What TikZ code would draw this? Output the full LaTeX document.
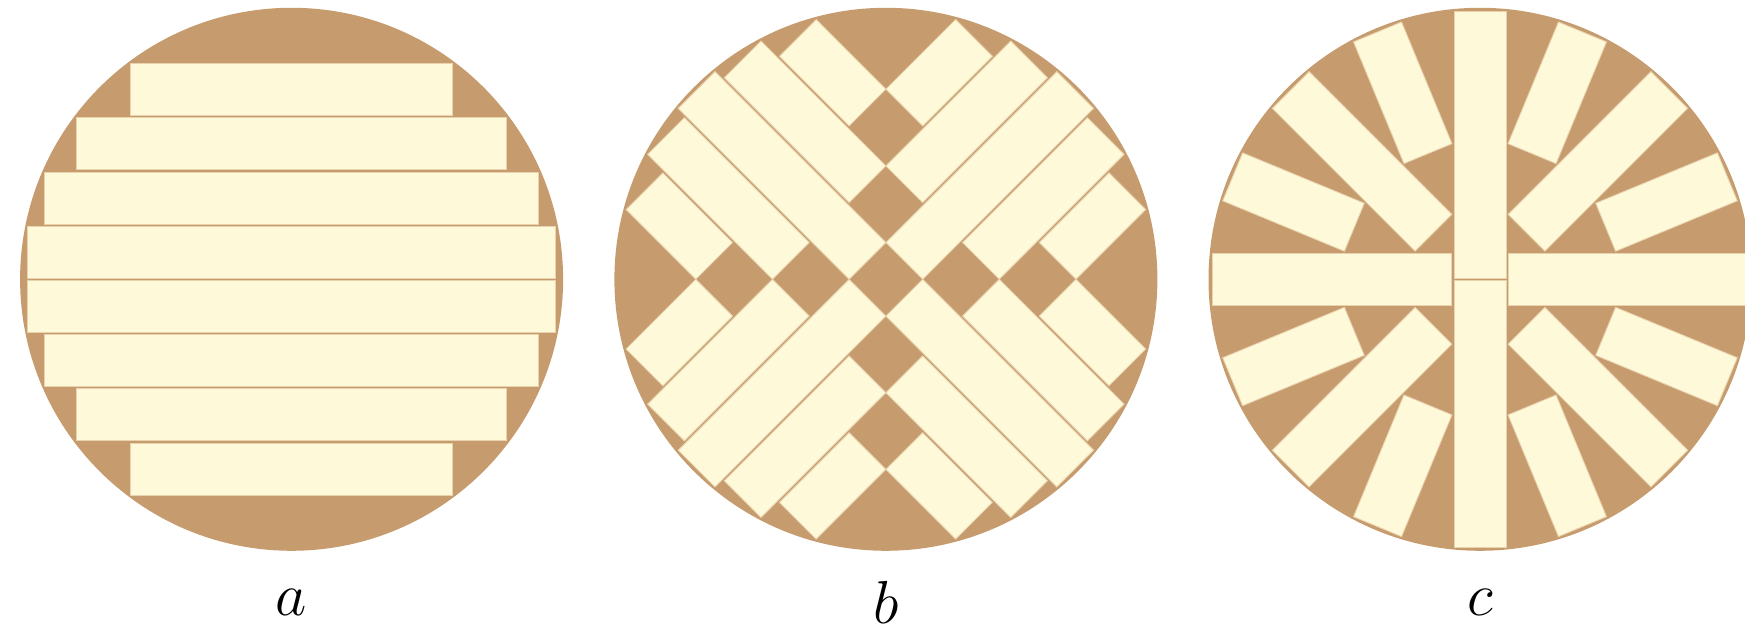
\documentclass[tikz,border=0pt]{standalone}
\usepackage{tikz}
\definecolor{woodtan}{RGB}{198,155,110}
\definecolor{stripcream}{RGB}{254,249,216}

\begin{document}
\begin{tikzpicture}[x=0.01cm, y=0.01cm,
  disc/.style={fill=woodtan},
  strip/.style={fill=stripcream, draw=woodtan!40!stripcream, line width=0.25pt},
  panellabel/.style={font=\fontsize{17.28}{20}\selectfont}]

\def\R{271.5}   % disc radius
\def\Rin{269}   % strips stay inside this radius
\def\w{52}      % strip width
\def\p{54.2}    % strip pitch

\useasboundingbox (0,0) rectangle (1745,634);
\clip (0,0) rectangle (1745,634);

% ---------------- Panel (a): parallel strips ----------------
\begin{scope}[shift={(291.6,354.7)}]
\fill[disc] (0,0) circle (\R);
\foreach \k in {-4,...,3} {
  \pgfmathsetmacro{\ylo}{\k*\p+1.1}
  \pgfmathsetmacro{\yhi}{\ylo+\w}
  \pgfmathsetmacro{\ymax}{max(abs(\ylo),abs(\yhi))}
  \pgfmathsetmacro{\hw}{10*sqrt((\Rin/10)^2-(\ymax/10)^2)}
  \fill[strip] (-\hw,\ylo) rectangle (\hw,\yhi);
}
\node[panellabel] (lblA) at (0,-322.7) {$a$};
\end{scope}

% ---------------- Panel (b): crossed diagonal strips ----------------
\begin{scope}[shift={(885.9,354.7)}]
\fill[disc] (0,0) circle (\R);
\foreach \q in {45,135,225,315} {
  \foreach \k in {-2,...,2} {
    \pgfmathsetmacro{\vlo}{\k*\p-\w/2}
    \pgfmathsetmacro{\vhi}{\k*\p+\w/2}
    \pgfmathsetmacro{\umin}{abs(\k)*\p+\w/2}
    \pgfmathsetmacro{\umax}{10*sqrt((\Rin/10)^2-(\umin/10)^2)}
    \fill[strip, rotate=\q] (\umin,\vlo) rectangle (\umax,\vhi);
  }
}
\node[panellabel] (lblB) at (0,-322.7) {$b$};
\end{scope}

% ---------------- Panel (c): radial strips ----------------
\begin{scope}[shift={(1480,354.7)}]
\fill[disc] (0,0) circle (\R);
\pgfmathsetmacro{\aout}{10*sqrt((\Rin/10)^2-(\w/20)^2)}
\foreach \q/\ain in {90/1.1, 270/1.1, 0/28.2, 180/28.2,
                     45/65.8, 135/65.8, 225/65.8, 315/65.8,
                     22.5/136, 67.5/136, 112.5/136, 157.5/136,
                     202.5/136, 247.5/136, 292.5/136, 337.5/136}
  \fill[strip, rotate=\q] (\ain,-\w/2) rectangle (\aout,\w/2);
\node[panellabel] (lblC) at (0,-322.7) {$c$};
\end{scope}

\end{tikzpicture}
\end{document}
